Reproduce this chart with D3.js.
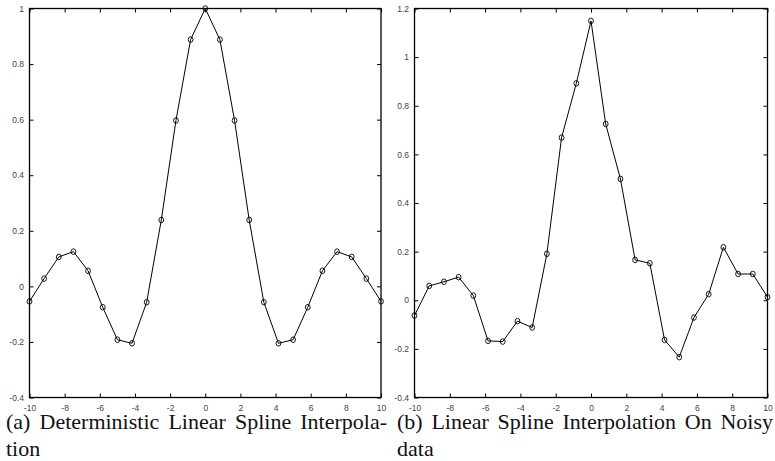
<!DOCTYPE html>
<html>
<head>
<meta charset="utf-8">
<script src="https://cdn.jsdelivr.net/npm/d3@7"></script>
<style>
html,body{margin:0;padding:0;background:#fff;}
svg{display:block;}
</style>
</head>
<body>
<svg id="chart" width="775" height="461"></svg>
<script>
// ---- data ----
const xValues = [-10, -9.167, -8.333, -7.5, -6.667, -5.833, -5, -4.167, -3.333, -2.5, -1.667, -0.833, 0,
                 0.833, 1.667, 2.5, 3.333, 4.167, 5, 5.833, 6.667, 7.5, 8.333, 9.167, 10];
const deterministicValues = [-0.054, 0.028, 0.106, 0.125, 0.056, -0.075, -0.192, -0.205, -0.057, 0.239, 0.597, 0.888, 1.0,
                             0.888, 0.597, 0.239, -0.057, -0.205, -0.192, -0.075, 0.056, 0.125, 0.106, 0.028, -0.054];
const noisyValues = [-0.063, 0.059, 0.076, 0.095, 0.019, -0.167, -0.17, -0.086, -0.112, 0.191, 0.669, 0.892, 1.149,
                     0.725, 0.499, 0.166, 0.152, -0.163, -0.234, -0.071, 0.025, 0.218, 0.108, 0.108, 0.013];
const xTicks = [-10, -8, -6, -4, -2, 0, 2, 4, 6, 8, 10];
const yTicksA = [-0.4, -0.2, 0, 0.2, 0.4, 0.6, 0.8, 1];
const yTicksB = [-0.4, -0.2, 0, 0.2, 0.4, 0.6, 0.8, 1, 1.2];
const captionA = ["(a) Deterministic Linear Spline Interpola-", "tion"];
const captionB = ["(b) Linear Spline Interpolation On Noisy", "data"];

const svg = d3.select("#chart");

function panel(opts) {
  const x = d3.scaleLinear().domain([-10, 10]).range([opts.x0, opts.x1]);
  const y = d3.scaleLinear().domain(opts.yDomain).range([opts.y1, opts.y0]);
  const g = svg.append("g");
  const tickFont = "'Liberation Sans Narrow','Liberation Sans',Arial,sans-serif";
  const fmt = d => (d < 0 ? "-" : "") + d3.format("~g")(Math.abs(d));

  const bottom = g.append("g").attr("transform", `translate(0,${opts.y1})`)
    .call(d3.axisBottom(x).tickValues(xTicks).tickSize(-4).tickPadding(7).tickFormat(fmt));
  const top = g.append("g").attr("transform", `translate(0,${opts.y0})`)
    .call(d3.axisTop(x).tickValues(xTicks).tickSize(-4).tickFormat(""));
  const left = g.append("g").attr("transform", `translate(${opts.x0},0)`)
    .call(d3.axisLeft(y).tickValues(opts.yTicks).tickSize(-4).tickPadding(5.5).tickFormat(fmt));
  const right = g.append("g").attr("transform", `translate(${opts.x1},0)`)
    .call(d3.axisRight(y).tickValues(opts.yTicks).tickSize(-4).tickFormat(""));
  [bottom, top, left, right].forEach(a => {
    a.select(".domain").remove();
    a.selectAll(".tick line").attr("stroke", "#000").attr("stroke-width", 1);
    a.selectAll(".tick text").attr("font-family", tickFont).attr("font-size", 8.5).attr("fill", "#444");
  });
  g.append("rect").attr("x", opts.x0).attr("y", opts.y0)
    .attr("width", opts.x1 - opts.x0).attr("height", opts.y1 - opts.y0)
    .attr("fill", "none").attr("stroke", "#000").attr("stroke-width", 1.3);

  const pts = xValues.map((v, i) => [v, opts.values[i]]);
  g.append("path").datum(pts)
    .attr("fill", "none").attr("stroke", "#000").attr("stroke-width", 1)
    .attr("d", d3.line().x(d => x(d[0])).y(d => y(d[1])));
  g.selectAll("ellipse.m").data(pts).enter().append("ellipse").attr("class", "m")
    .attr("cx", d => x(d[0])).attr("cy", d => y(d[1]))
    .attr("rx", 2.4).attr("ry", 2.8)
    .attr("fill", "none").attr("stroke", "#000").attr("stroke-width", 0.9);

  // caption (justified first line)
  const cap = g.append("g").attr("font-family", "'Liberation Serif','Times New Roman',serif")
    .attr("font-size", 22).attr("fill", "#111");
  const l1 = cap.append("text").attr("x", opts.capX).attr("y", 429).text(opts.caption[0]);
  const natural = l1.node().getComputedTextLength();
  const spaces = (opts.caption[0].match(/ /g) || []).length;
  if (spaces > 0 && natural < opts.capW) l1.attr("word-spacing", (opts.capW - natural) / spaces);
  cap.append("text").attr("x", opts.capX).attr("y", 456).text(opts.caption[1]);
}

panel({x0: 29.5, x1: 381, y0: 8.5, y1: 397.5, yDomain: [-0.4, 1], yTicks: yTicksA,
       values: deterministicValues, caption: captionA, capX: 6, capW: 381});
panel({x0: 414.5, x1: 767.5, y0: 8.5, y1: 397.5, yDomain: [-0.4, 1.2], yTicks: yTicksB,
       values: noisyValues, caption: captionB, capX: 397, capW: 376});
</script>
</body>
</html>
